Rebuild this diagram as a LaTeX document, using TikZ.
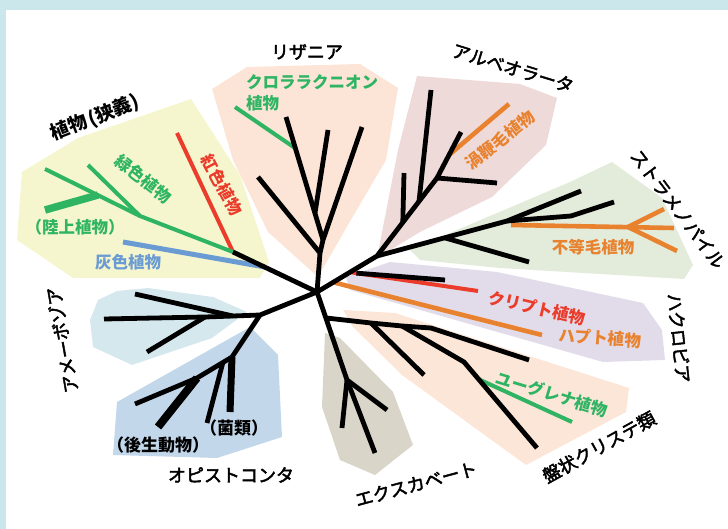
\documentclass[tikz,border=0pt]{standalone}
\usepackage{fontspec}
\setmainfont{Noto Sans CJK JP}
\newfontfamily\medjp{Noto Sans CJK JP}[FakeBold=2.5]
\usetikzlibrary{calc}
\definecolor{framec}{HTML}{CBE7EB}
\definecolor{cgreen}{HTML}{2EB462}
\definecolor{cred}{HTML}{EB3B2A}
\definecolor{corange}{HTML}{E8822F}
\definecolor{cblue}{HTML}{6A9BD3}
\definecolor{bgyellow}{HTML}{F6F6CE}
\definecolor{bgpeach}{HTML}{FCE5D7}
\definecolor{bgpink}{HTML}{EFDADA}
\definecolor{bggreen}{HTML}{E3EBDA}
\definecolor{bglav}{HTML}{E2DCEA}
\definecolor{bgpeach2}{HTML}{FCE6D8}
\definecolor{bggray}{HTML}{D9D5C8}
\definecolor{bgamo}{HTML}{D5E8EE}
\definecolor{bgopi}{HTML}{C3D7EB}
\begin{document}
\begin{tikzpicture}[x=1pt,y=-1pt,
  br/.style={line width=4.8pt,black,line join=round},
  gbr/.style={line width=4pt,cgreen},
  rbr/.style={line width=4pt,cred},
  obr/.style={line width=4.6pt,corange},
  bbr/.style={line width=5pt,cblue},
  grp/.style={inner sep=0pt,font=\medjp\fontsize{18}{20}\selectfont},
  sub/.style={inner sep=0pt,font=\bfseries\fontsize{16.5}{20}\selectfont},
  par/.style={inner sep=0pt,font=\bfseries\fontsize{17}{20}\selectfont}]
\useasboundingbox (0,0) rectangle (728,529);
\fill[framec] (0,0) rectangle (728,10);
\fill[framec] (0,0) rectangle (6,529);
% background regions
\fill[bgyellow] (22,172) -- (78,138) -- (191,99) -- (240,175) -- (269,262) -- (260,278) -- (73,278) -- (17,240) -- cycle;
\fill[bgpeach] (212,89) -- (247,67) -- (360,64) -- (398,88) -- (386,160) -- (345,230) -- (318,277) -- (268,232) -- (233,160) -- cycle;
\fill[bgpink] (417,76) -- (520,84) -- (557,98) -- (546,145) -- (492,197) -- (420,232) -- (377,258) -- (398,150) -- cycle;
\fill[bggreen] (410,250) -- (570,182) -- (612,162) -- (662,198) -- (693,265) -- (684,279) -- (500,268) -- (420,260) -- cycle;
\fill[bglav] (346,277) -- (390,262) -- (497,272) -- (643,303) -- (662,330) -- (665,360) -- (603,362) -- (350,290) -- cycle;
\fill[bgpeach2] (343,310) -- (395,313) -- (629,388) -- (626,412) -- (526,465) -- (402,375) -- (353,327) -- cycle;
\fill[bggray] (325,333) -- (340,338) -- (393,392) -- (413,445) -- (375,475) -- (340,460) -- (322,407) -- cycle;
\fill[bgamo] (90,320) -- (98,300) -- (117,291) -- (148,288) -- (213,297) -- (247,312) -- (212,338) -- (132,365) -- (93,347) -- cycle;
\fill[bgopi] (117,402) -- (250,327) -- (278,355) -- (282,437) -- (217,458) -- (113,455) -- cycle;
% coordinates
\coordinate (C) at (317,292);
% plants
\coordinate (P) at (233,252);
\coordinate (Pb) at (265,267);
\coordinate (Bend) at (123,242);
\coordinate (Rend) at (177,133);
\coordinate (G) at (140,216);
\coordinate (Gup) at (88,165);
\coordinate (L) at (98,195);
\coordinate (Gleft) at (45,169);
\coordinate (Land) at (45,210);
% rhizaria
\coordinate (Ra) at (320,253);
\coordinate (Rb) at (323,240);
\coordinate (Rleft) at (258,177);
\coordinate (R2) at (362,127);
\coordinate (R3) at (286,117);
\coordinate (Rm) at (315,213);
\coordinate (Rmend) at (328,130);
\coordinate (Rg) at (295,148);
\coordinate (Chl) at (235,107);
% hacrobia & SAR
\coordinate (SA) at (377,256);
\coordinate (Hor) at ($(C)!0.27!(SA)$);
\coordinate (Hr) at ($(C)!0.55!(SA)$);
\coordinate (Crend) at (478,291);
\coordinate (Hb) at ($(Hr)!0.05!(Crend)$);
\coordinate (Hbend) at (445,280);
\coordinate (Hapend) at (542,335);
% alveolata
\coordinate (A3) at (437,178);
\coordinate (A1) at ($(SA)!0.43!(A3)$);
\coordinate (A2) at ($(SA)!0.70!(A3)$);
\coordinate (Aend) at (461,132);
\coordinate (A4) at ($(A3)!0.5!(Aend)$);
\coordinate (A1e) at (404,173);
\coordinate (A2e) at (431,90);
\coordinate (A3e) at (497,183);
\coordinate (Dinoe) at (509,104);
% stramenopiles
\coordinate (S2) at (507,221);
\coordinate (S1) at ($(SA)!0.52!(S2)$);
\coordinate (Send) at (581,191);
\coordinate (S1e) at (529,262);
\coordinate (S3a) at (571,216);
\coordinate (S3e) at (614,202);
\coordinate (So) at (511,225);
\coordinate (Sf) at (628,227);
\coordinate (Sfa) at (664,209);
\coordinate (Sfb) at (674,228);
\coordinate (Sfc) at (677,251);
% excavata / discoba
\coordinate (E) at (347,380);
\coordinate (E1) at (342,428);
\coordinate (E2) at (387,410);
\coordinate (E3) at (375,453);
\coordinate (D0) at ($(C)!0.295!(E)$);
\coordinate (D1) at (371,323);
\coordinate (D2) at (402,326);
\coordinate (D3) at (431,328);
\coordinate (Dend) at (529,360);
\coordinate (D1e) at (424,375);
\coordinate (D2m) at (464,362);
\coordinate (D2e) at (537,448);
\coordinate (Eug) at ($(D2m)!0.2!(D2e)$);
\coordinate (Euge) at (572,422);
% amoebozoa / opisthokonta
\coordinate (U) at (260,315);
\coordinate (Am1) at (233,316);
\coordinate (Am2) at (205,317);
\coordinate (Amend) at (104,319);
\coordinate (Am1e) at (135,294);
\coordinate (Am2e) at (147,352);
\coordinate (O1) at (232,357);
\coordinate (O3) at (197,378);
\coordinate (O2) at ($(O1)!0.26!(O3)$);
\coordinate (Oend) at (135,404);
\coordinate (Fu1) at (230,412);
\coordinate (Fu2) at (207,423);
\coordinate (Ani) at (158,427);
% coloured branches
\draw[bbr] (Pb) -- (Bend);
\draw[rbr] (P) -- (Rend);
\draw[gbr] (P) -- (G) -- (Gup);
\draw[gbr] (G) -- (Gleft);
\draw[gbr,line width=7.5pt] (L) -- (Land);
\draw[gbr] (Rg) -- (Chl);
\draw[rbr] (Hr) -- (Crend);
\draw[obr] (Hor) -- (Hapend);
\draw[obr] (A4) -- (Dinoe);
\draw[obr] (So) -- (Sfb);
\draw[obr] (Sf) -- (Sfa);
\draw[obr] (Sf) -- (Sfc);
\draw[gbr] (Eug) -- (Euge);
% black branches
\draw[br] (C) -- (P);
\draw[br] (C) -- (Ra) -- (Rb) -- (R2);
\draw[br] (Ra) -- (Rleft);
\draw[br] (Rb) -- (R3);
\draw[br] (Rm) -- (Rmend);
\draw[br] (C) -- (SA) -- (A3) -- (Aend);
\draw[br] (A1) -- (A1e);
\draw[br] (A2) -- (A2e);
\draw[br] (A3) -- (A3e);
\draw[br] (Hb) -- (Hbend);
\draw[br] (SA) -- (S2) -- (Send);
\draw[br] (S1) -- (S1e);
\draw[br] (S2) -- (S3a) -- (S3e);
\draw[br] (C) -- (E);
\draw[br] (E) -- (E1);
\draw[br] (E) -- (E2);
\draw[br] (E) -- (E3);
\draw[br] (D0) -- (D1) -- (D2) -- (D3) -- (Dend);
\draw[br] (D1) -- (D1e);
\draw[br] (D2) -- (D2m) -- (D2e);
\draw[br] (C) -- (U) -- (Am1) -- (Am2) -- (Amend);
\draw[br] (Am1) -- (Am1e);
\draw[br] (Am2) -- (Am2e);
\draw[br] (U) -- (O1) -- (O3) -- (Oend);
\draw[br,line width=7pt] (O1) -- (Fu1);
\draw[br] (O2) -- (Fu2);
\draw[br,line width=8pt] (O3) -- (Ani);
% labels
\node[par,rotate=21,font=\bfseries\fontsize{19}{20}\selectfont] (lplant) at (95,118) {植物\kern2pt(狭義)};
\node[sub,cgreen,rotate=-38] (lgreen) at (143,179) {緑色植物};
\node[sub,cred,rotate=-62] (lred) at (222,185) {紅色植物};
\node[sub,cgreen] (lland) at (75,227) {（陸上植物）};
\node[sub,cblue] (lgray) at (128,262) {灰色植物};
\node[grp] (lrhiz) at (307,52) {リザニア};
\node[sub,cgreen,anchor=north west,align=left,font=\bfseries\fontsize{16.5}{21}\selectfont] (lchl) at (246,74) {クロララクニオン\\植物};
\node[grp,rotate=-17] (lalv) at (513,68) {アルベオラータ};
\node[sub,corange,rotate=38] (ldino) at (500,140) {渦鞭毛植物};
\node[grp,rotate=-53] (lstra) at (678,209) {ストラメノパイル};
\node[sub,corange] (lhet) at (593,247) {不等毛植物};
\node[grp,rotate=-84] (lhac) at (679,338) {ハクロビア};
\node[sub,cred,rotate=-13] (lcry) at (537,308) {クリプト植物};
\node[sub,corange,rotate=-4] (lhap) at (600,338) {ハプト植物};
\node[sub,cgreen,rotate=-17] (leug) at (552,394) {ユーグレナ植物};
\node[grp,rotate=29] (ldisc) at (599,447) {盤状クリステ類};
\node[grp,rotate=15] (lexc) at (416,484) {エクスカベート};
\node[grp,rotate=100] (lamo) at (62,340) {アメーボゾア};
\node[grp] (lopi) at (231,475) {オピストコンタ};
\node[par] (lfun) at (234,428) {（菌類）};
\node[par] (lani) at (158,445) {（後生動物）};
\end{tikzpicture}
\end{document}
